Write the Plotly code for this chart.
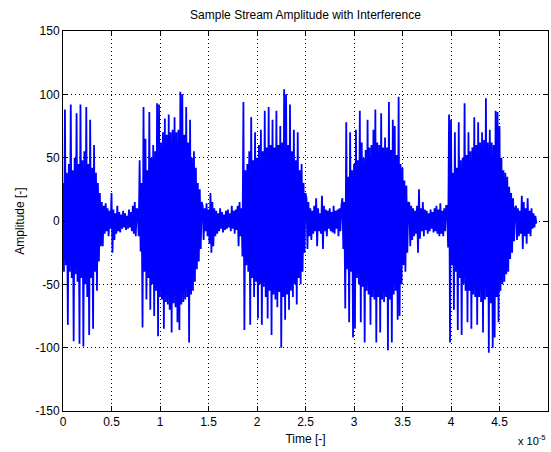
import numpy as np
import plotly.graph_objects as go

# sample spacing of the stream [s]
dt = 1e-7

burst1 = [30, -40, 88, -35, 38, -82, 45, -40, 92, -45,
          40, -95, 50, -42, 85, -48, 45, -97, 92, -45,
          48, -99, 55, -50, 90, -60, 45, -90, 80, -45,
          42, -85, 60, -40, 38, -55, 30, -32, 22, -20]
gap1 = [15, -20, 12, -10, 14, -8, 10, -12, 8, -6,
        22, -25, 9, -15, 6, -10, 12, -8, 7, -9,
        5, -6, 8, -5, 6, -7, 4, -6, 9, -5,
        7, -8, 12, -10, 15, -12, 10]
burst2 = [8, -12, 48, -24, 30, -84, 90, -40, 65, -62,
          40, -45, 86, -70, 50, -50, 60, -75, 55, -55,
          93, -91, 92, -60, 62, -62, 70, -85, 81, -64,
          68, -66, 84, -70, 70, -88, 72, -65, 82, -68,
          70, -80, 72, -86, 102, -66, 100, -64, 68, -62,
          90, -60, 62, -96, 80, -58, 50, -55, 55, -48,
          42, -38, 30, -32, 25, -22, 15]
gap2 = [12, -15, 10, -8, 14, -12, 9, -18, 22, -25,
        15, -20, 10, -12, 8, -10, 6, -8, 10, -6,
        7, -9, 5, -7, 8, -6, 9, -5, 6, -8,
        12, -6, 8, -10, 9, -7, 12, -20, 15, -12]
burst3 = [10, -28, 94, -86, 40, -35, 45, -40, 55, -82,
          82, -45, 48, -60, 70, -48, 50, -77, 60, -50,
          72, -82, 55, -52, 87, -60, 58, -77, 90, -55,
          60, -90, 80, -58, 58, -62, 87, -68, 60, -56,
          75, -100, 62, -60, 104, -78, 100, -58, 60, -70,
          92, -55, 55, -60, 72, -50, 48, -66, 70, -45,
          40, -50, 45, -40, 30, -25, 22]
gap3 = [18, -22, 15, -12, 10, -15, 8, -10, 12, -8,
        18, -20, 10, -8, 6, -10, 20, -22, 12, -8,
        9, -12, 8, -6, 10, -8, 7, -9, 12, -10,
        8, -6, 9, -12, 10, -8, 12]
burst4 = [18, -22, 15, -69, 78, -38, 35, -80, 70, -40,
          40, -92, 45, -85, 72, -45, 48, -50, 87, -80,
          62, -52, 50, -96, 56, -55, 80, -58, 58, -82,
          60, -60, 72, -62, 88, -96, 62, -60, 60, -88,
          85, -62, 58, -64, 66, -60, 58, -102, 94, -62,
          56, -96, 80, -58, 75, -55, 52, -78, 98, -75,
          45, -50, 42, -35, 32, -40, 28, -25, 15]
gap4 = [14, -20, 12, -15, 10, -12, 8, -10, 12, -25,
        25, -14, 10, -8, 15, -12, 9, -7, 8, -10,
        6, -8, 9, -6, 7, -9, 10, -8, 12, -10,
        9, -12, 14, -10, 8, -12, 10, -8, 12]
burst5 = [12, -21, 84, -96, 80, -35, 38, -70, 70, -40,
          42, -86, 78, -45, 48, -90, 50, -50, 93, -55,
          52, -80, 70, -55, 55, -85, 58, -58, 82, -60,
          60, -82, 78, -60, 62, -64, 70, -88, 64, -62,
          97, -60, 62, -104, 72, -65, 62, -100, 60, -92,
          87, -60, 86, -80, 75, -55, 50, -50, 40, -48,
          38, -42, 35, -40, 27, -30, 22, -25, 18, -16,
          10]
gap5 = [12, -15, 10, -12, 8, -10, 20, -22, 15, -12,
        10, -18, 18, -10, 8, -12, 10, -6, 6, -5,
        4, -2]

x_tick_vals = [0, 0.5e-5, 1e-5, 1.5e-5, 2e-5, 2.5e-5, 3e-5, 3.5e-5, 4e-5, 4.5e-5, 5e-5]
x_tick_text = ["0", "0.5", "1", "1.5", "2", "2.5", "3", "3.5", "4", "4.5", "5"]
y_tick_vals = [-150, -100, -50, 0, 50, 100, 150]
y_tick_text = ["-150", "-100", "-50", "0", "50", "100", "150"]

amp = np.array(burst1 + gap1 + burst2 + gap2 + burst3 + gap3 +
               burst4 + gap4 + burst5 + gap5, dtype=float)
t = np.arange(len(amp)) * dt

fig = go.Figure()
fig.add_trace(go.Scatter(x=t, y=amp, mode="lines",
                         line=dict(color="#0000ff", width=1.8, simplify=False),
                         showlegend=False, hoverinfo="skip"))

font = "Liberation Sans, Arial, Helvetica, sans-serif"
axis_common = dict(showline=True, linecolor="black", linewidth=1, mirror="ticks",
                   ticks="inside", ticklen=5, tickcolor="black",
                   showgrid=True, gridcolor="black", griddash="1px,3px", gridwidth=1,
                   zeroline=False, tickfont=dict(family=font, size=12, color="black"))

fig.update_layout(
    width=551, height=452,
    margin=dict(l=63, r=3, t=31, b=41),
    paper_bgcolor="white", plot_bgcolor="white",
    title=dict(text="Sample Stream Amplitude with Interference",
               x=0.5, xanchor="center", xref="paper",
               y=1, yref="container", yanchor="top", pad=dict(t=11),
               font=dict(family=font, size=12, color="black")),
    xaxis=dict(range=[0, 5e-5], tickvals=x_tick_vals, ticktext=x_tick_text,
               title=dict(text="Time [-]", standoff=6,
                          font=dict(family=font, size=12, color="black")),
               **axis_common),
    yaxis=dict(range=[-150, 150], tickvals=y_tick_vals, ticktext=y_tick_text,
               title=dict(text="Amplitude [-]", standoff=8,
                          font=dict(family=font, size=12, color="black")),
               **axis_common),
)
fig.add_annotation(text="x 10<sup>-5</sup>", xref="paper", yref="paper",
                   x=1.0, y=-0.1, xanchor="right", yanchor="bottom", showarrow=False,
                   font=dict(family=font, size=11, color="black"))

fig.write_html("out.html")
